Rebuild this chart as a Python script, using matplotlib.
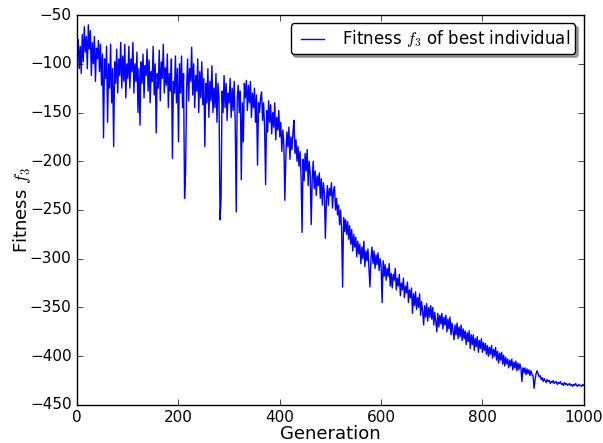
import numpy as np
import matplotlib
matplotlib.use('Agg')
import matplotlib.pyplot as plt

plt.style.use('classic')

# best-individual fitness, every 2 generations
generations = np.arange(0, 1001, 2)

fit_0 = [-95, -75, -105, -82, -110, -70, -98, -62, -88, -72,
         -105, -60, -85, -66, -112, -78, -100, -72, -118, -84,
         -95, -76, -108, -80, -122, -90, -176, -95, -115, -82,
         -160, -100, -125, -80, -140, -105, -185, -98, -120, -85,
         -130, -95, -112, -78, -125, -92, -118, -80, -135, -100]
fit_100 = [-115, -82, -125, -95, -108, -78, -130, -100, -118, -88,
           -150, -105, -163, -98, -120, -90, -135, -102, -112, -85,
           -128, -96, -140, -108, -118, -82, -132, -100, -171, -110,
           -125, -86, -138, -98, -115, -80, -130, -104, -122, -90,
           -145, -110, -128, -95, -197, -118, -130, -92, -140, -105]
fit_200 = [-180, -100, -130, -92, -145, -110, -238, -212, -125, -95,
           -138, -105, -118, -83, -132, -100, -145, -112, -128, -95,
           -150, -108, -135, -98, -142, -115, -185, -120, -140, -105,
           -155, -118, -138, -102, -150, -125, -145, -110, -160, -120,
           -135, -260, -240, -128, -150, -112, -145, -120, -158, -130]
fit_300 = [-140, -115, -155, -125, -148, -118, -160, -252, -135, -122,
           -150, -128, -219, -140, -180, -120, -135, -117, -148, -122,
           -140, -118, -155, -130, -145, -125, -160, -132, -204, -140,
           -150, -135, -129, -158, -140, -165, -224, -148, -170, -138,
           -160, -142, -172, -150, -165, -140, -178, -155, -168, -148]
fit_400 = [-175, -160, -190, -168, -182, -240, -195, -170, -185, -165,
           -198, -175, -188, -170, -158, -192, -178, -200, -185, -205,
           -190, -215, -273, -198, -220, -192, -210, -188, -225, -200,
           -212, -265, -218, -200, -228, -210, -235, -215, -225, -212,
           -238, -218, -245, -222, -232, -279, -240, -225, -245, -228]
fit_500 = [-235, -222, -248, -230, -226, -250, -238, -255, -245, -265,
           -250, -270, -329, -258, -272, -260, -275, -262, -280, -266,
           -285, -270, -292, -275, -288, -278, -298, -282, -295, -285,
           -305, -288, -300, -282, -308, -292, -302, -290, -310, -329,
           -300, -288, -305, -292, -310, -296, -306, -294, -312, -300]
fit_600 = [-308, -345, -302, -318, -306, -322, -310, -318, -305, -328,
           -315, -330, -316, -322, -310, -332, -320, -328, -316, -338,
           -325, -332, -320, -340, -328, -335, -324, -345, -332, -340,
           -330, -356, -336, -348, -334, -352, -340, -350, -336, -358,
           -344, -354, -368, -348, -360, -346, -364, -350, -360, -348]
fit_700 = [-362, -350, -368, -355, -364, -375, -356, -370, -358, -367,
           -356, -372, -360, -368, -358, -375, -362, -372, -360, -378,
           -366, -374, -383, -368, -378, -366, -382, -370, -380, -368,
           -384, -372, -382, -374, -388, -376, -385, -374, -392, -378,
           -388, -378, -394, -382, -390, -380, -396, -384, -392, -382]
fit_800 = [-396, -386, -394, -387, -398, -389, -400, -391, -398, -389,
           -402, -393, -400, -391, -404, -395, -407, -397, -404, -396,
           -408, -399, -410, -401, -408, -403, -412, -404, -410, -403,
           -414, -406, -412, -405, -415, -407, -414, -408, -412, -426,
           -412, -417, -412, -419, -413, -418, -414, -420, -415, -419]
fit_900 = [-420, -433, -424, -418, -415, -418, -421, -420, -424, -422,
           -426, -423, -425, -427, -424, -426, -425, -428, -426, -427,
           -425, -428, -427, -426, -429, -427, -428, -426, -429, -428,
           -430, -427, -429, -428, -430, -429, -428, -430, -429, -431,
           -429, -430, -428, -430, -431, -429, -430, -430, -431, -429, -430]

fitness = np.array(fit_0 + fit_100 + fit_200 + fit_300 + fit_400 +
                   fit_500 + fit_600 + fit_700 + fit_800 + fit_900)

fig = plt.figure(figsize=(6.03, 4.43), dpi=100, facecolor='white')
ax = fig.add_axes([0.128, 0.086, 0.840, 0.880])

ax.plot(generations, fitness, color='b', linewidth=1.0,
        label='Fitness $f_3$ of best individual')

ax.set_xlim(0, 1000)
ax.set_ylim(-450, -50)
ax.set_xticks(range(0, 1001, 200))
ax.set_yticks(range(-450, -49, 50))
ax.tick_params(labelsize=11)
ax.set_xlabel('Generation', fontsize=13, labelpad=0)
ax.set_ylabel('Fitness $f_3$', fontsize=13, labelpad=-2)

ax.legend(loc='upper right', fancybox=True, shadow=True, fontsize=12,
          handlelength=2.0, borderpad=0.3)

fig.savefig('out.png', dpi=100, facecolor='white')
